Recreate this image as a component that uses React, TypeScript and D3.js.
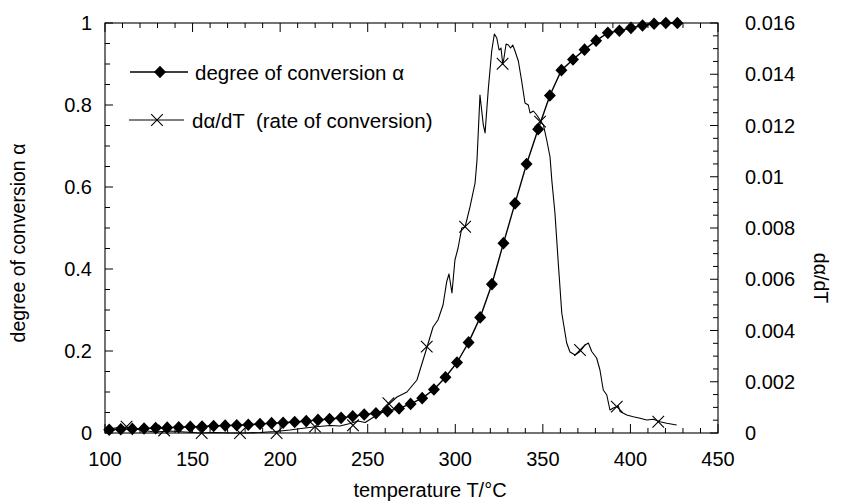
import React from "react";
import * as d3 from "d3";

// ---------- data ----------
const alphaT = [
  102.4, 109.0, 115.6, 122.3, 128.9, 135.5, 142.1, 148.7, 155.4, 162.0,
  168.6, 175.2, 181.8, 188.5, 195.1, 201.7, 208.3, 214.9, 221.6, 228.2,
  234.8, 241.4, 248.0, 254.7, 261.3, 267.9, 274.5, 281.1, 287.8, 294.4,
  301.0, 307.6, 314.2, 320.9, 327.5, 334.1, 340.7, 347.3, 354.0, 360.6,
  367.2, 373.8, 380.4, 387.1, 393.7, 400.3, 406.9, 413.5, 420.2, 426.8,
];
const alphaV = [
  0.008, 0.009, 0.010, 0.011, 0.012, 0.013, 0.014, 0.015, 0.016, 0.017,
  0.018, 0.019, 0.020, 0.022, 0.024, 0.025, 0.027, 0.029, 0.032, 0.034,
  0.037, 0.041, 0.045, 0.048, 0.053, 0.060, 0.071, 0.085, 0.106, 0.136,
  0.172, 0.221, 0.282, 0.363, 0.463, 0.560, 0.656, 0.741, 0.823, 0.885,
  0.911, 0.935, 0.957, 0.976, 0.981, 0.988, 0.994, 0.998, 1.0, 1.0,
];

const rateT = [
  100.6, 105.7, 112.6, 120.0, 128.5, 137.1, 145.7, 154.2, 162.8, 171.4,
  179.9, 188.5, 197.1, 205.6, 214.2, 220.5, 228.5, 234.2, 239.9, 244.5,
  248.5, 255.3, 261.6, 266.7, 272.4, 278.1, 283.9, 287.3, 290.1, 293.0,
  295.1, 296.4, 298.1, 299.8, 301.6, 303.7, 305.6, 308.4, 311.3, 312.4,
  314.1, 316.0, 317.0, 318.9, 320.8, 322.3, 323.7, 325.0, 326.1, 327.1,
  327.8, 329.0, 330.3, 331.6, 332.8, 334.1, 336.0, 337.9, 339.8, 341.7,
  342.7, 344.6, 346.5, 348.4, 350.3, 352.2, 354.1, 355.1, 356.9, 358.8,
  360.8, 363.6, 365.5, 368.4, 371.2, 374.1, 376.0, 377.9, 380.7, 382.6,
  384.5, 386.5, 388.3, 390.2, 393.1, 394.1, 397.9, 401.6, 405.5, 409.3,
  413.1, 416.9, 420.7, 426.4,
];
const rateV = [
  0.000117, 0.000195, 0.000234, 0.000117, 0.000039, 0.000078, 0.000039, 0.0, 0.00002, 0.0,
  0.0, 0.00002, 0.000059, 0.000117, 0.000195, 0.000246, 0.000293, 0.000273, 0.000371, 0.000468,
  0.00041, 0.000702, 0.001093, 0.001405, 0.0016, 0.002068, 0.003356, 0.004137, 0.00441, 0.004995,
  0.005904, 0.006205, 0.005463, 0.006751, 0.00722, 0.0080, 0.008039, 0.00882, 0.009756, 0.010654,
  0.01319, 0.01202, 0.01171, 0.013463, 0.014907, 0.01557, 0.015414, 0.014946, 0.015024, 0.014399,
  0.014634, 0.01518, 0.015141, 0.015024, 0.015141, 0.014907, 0.014517, 0.013737, 0.012878, 0.0128,
  0.012488, 0.012566, 0.01241, 0.012215, 0.01202, 0.011434, 0.010771, 0.009873, 0.008585, 0.006634,
  0.004683, 0.003512, 0.003161, 0.003044, 0.00318, 0.003434, 0.003512, 0.00318, 0.002927, 0.002459,
  0.001678, 0.001483, 0.000898, 0.000976, 0.001054, 0.000839, 0.000702, 0.000636, 0.000574, 0.000507,
  0.000535, 0.000441, 0.000379, 0.000312,
];

const rateMarkerT = [112.3, 133.8, 155.2, 177.1, 198.0, 219.9, 241.6, 261.8, 283.7, 305.6, 327.0, 348.4, 371.2, 392.2, 415.9];
const rateMarkerV = [0.00025, 0.0001, 0.0, 0.0, 0.0, 0.00025, 0.0003, 0.00116, 0.00337, 0.00805, 0.01441, 0.01215, 0.00324, 0.00103, 0.00044];

const xTicks = [100, 150, 200, 250, 300, 350, 400, 450];
const xTickLabels = ["100", "150", "200", "250", "300", "350", "400", "450"];
const yLTicks = [0, 0.2, 0.4, 0.6, 0.8, 1];
const yLTickLabels = ["0", "0.2", "0.4", "0.6", "0.8", "1"];
const yRTicks = [0, 0.002, 0.004, 0.006, 0.008, 0.01, 0.012, 0.014, 0.016];
const yRTickLabels = ["0", "0.002", "0.004", "0.006", "0.008", "0.01", "0.012", "0.014", "0.016"];

const legendLabels = ["degree of conversion \u03B1", "d\u03B1/dT  (rate of conversion)"];
const xTitle = "temperature T/\u00B0C";
const yLTitle = "degree of conversion \u03B1";
const yRTitle = "d\u03B1/dT";

// ---------- layout ----------
const W = 843;
const H = 504;
const L = 105, R = 718, T = 23, B = 433;
const FONT = "'Liberation Sans', Arial, Helvetica, sans-serif";

export default function App() {
  const x = d3.scaleLinear().domain([100, 450]).range([L, R]);
  const yL = d3.scaleLinear().domain([0, 1]).range([B, T]);
  const yR = d3.scaleLinear().domain([0, 0.016]).range([B, T]);

  const xMinor = x.ticks(35);
  const yLMinor = yL.ticks(20);
  const yRMinor = d3.range(0, 33).map((i) => i * 0.0005);

  const alphaPts = alphaT.map((t, i) => [t, alphaV[i]] as [number, number]);
  const ratePts = rateT.map((t, i) => [t, rateV[i]] as [number, number]);

  const alphaLine = d3.line<[number, number]>().x((d) => x(d[0])).y((d) => yL(d[1]));
  const rateLine = d3.line<[number, number]>().x((d) => x(d[0])).y((d) => yR(d[1]));

  const diamond = (cx: number, cy: number, r = 6.3) =>
    `M${cx},${cy - r}L${cx + r * 0.95},${cy}L${cx},${cy + r}L${cx - r * 0.95},${cy}Z`;
  const cross = (cx: number, cy: number, r = 5.8) =>
    `M${cx - r},${cy - r}L${cx + r},${cy + r}M${cx - r},${cy + r}L${cx + r},${cy - r}`;

  return (
    <svg
      width={W}
      height={H}
      style={{ position: "absolute", left: 0, top: 0, background: "#fff" }}
      fontFamily={FONT}
    >
      <rect x={0} y={0} width={W} height={H} fill="#fff" />

      {/* frame */}
      <rect x={L} y={T} width={R - L} height={B - T} fill="none" stroke="#000" strokeWidth={1.1} />

      {/* x ticks bottom & top */}
      {xMinor.map((v) => {
        const major = xTicks.includes(v);
        const len = major ? 9 : 5;
        return (
          <g key={"xt" + v}>
            <line x1={x(v)} x2={x(v)} y1={B} y2={B - len} stroke="#000" strokeWidth={1} />
            <line x1={x(v)} x2={x(v)} y1={T} y2={T + len} stroke="#000" strokeWidth={1} />
          </g>
        );
      })}
      {xTicks.map((v, i) => (
        <text key={"xl" + v} x={x(v)} y={466} fontSize={20} textAnchor="middle" fill="#000">
          {xTickLabels[i]}
        </text>
      ))}

      {/* left y ticks */}
      {yLMinor.map((v) => {
        const major = yLTicks.some((m) => Math.abs(m - v) < 1e-9);
        return (
          <line key={"yl" + v} x1={L} x2={L + (major ? 8 : 5)} y1={yL(v)} y2={yL(v)} stroke="#000" strokeWidth={1} />
        );
      })}
      {yLTicks.map((v, i) => (
        <text key={"yll" + v} x={92} y={yL(v) + 7} fontSize={20} textAnchor="end" fill="#000">
          {yLTickLabels[i]}
        </text>
      ))}

      {/* right y ticks */}
      {yRMinor.map((v) => {
        const major = yRTicks.some((m) => Math.abs(m - v) < 1e-9);
        return (
          <line key={"yr" + v} x1={R} x2={R - (major ? 8 : 5)} y1={yR(v)} y2={yR(v)} stroke="#000" strokeWidth={1} />
        );
      })}
      {yRTicks.map((v, i) => (
        <text key={"yrl" + v} x={745} y={yR(v) + 7} fontSize={20} textAnchor="start" fill="#000">
          {yRTickLabels[i]}
        </text>
      ))}

      {/* axis titles */}
      <text x={430} y={497} fontSize={20} textAnchor="middle" fill="#000">{xTitle}</text>
      <text transform="translate(25,243) rotate(-90)" fontSize={19.5} textAnchor="middle" fill="#000">{yLTitle}</text>
      <text transform="translate(814,278) rotate(90)" fontSize={19.5} textAnchor="middle" fill="#000">{yRTitle}</text>

      {/* rate curve */}
      <path d={rateLine(ratePts) || ""} fill="none" stroke="#000" strokeWidth={1.1} strokeLinejoin="round" />
      {rateMarkerT.map((t, i) => (
        <path key={"rm" + i} d={cross(x(t), yR(rateMarkerV[i]))} stroke="#000" strokeWidth={1.1} fill="none" />
      ))}

      {/* alpha curve */}
      <path d={alphaLine(alphaPts) || ""} fill="none" stroke="#000" strokeWidth={1.4} />
      {alphaPts.map((d, i) => (
        <path key={"am" + i} d={diamond(x(d[0]), yL(d[1]))} fill="#000" />
      ))}

      {/* legend */}
      <line x1={130} x2={188} y1={72} y2={72} stroke="#000" strokeWidth={1.4} />
      <path d={diamond(160, 72)} fill="#000" />
      <text x={195} y={80} fontSize={20.5} fill="#000">{legendLabels[0]}</text>
      <line x1={129} x2={184} y1={120} y2={120} stroke="#000" strokeWidth={1.1} />
      <path d={cross(157, 120)} stroke="#000" strokeWidth={1.1} fill="none" />
      <text x={192} y={128} fontSize={20.5} fill="#000" style={{ whiteSpace: "pre" }}>{legendLabels[1]}</text>
    </svg>
  );
}
